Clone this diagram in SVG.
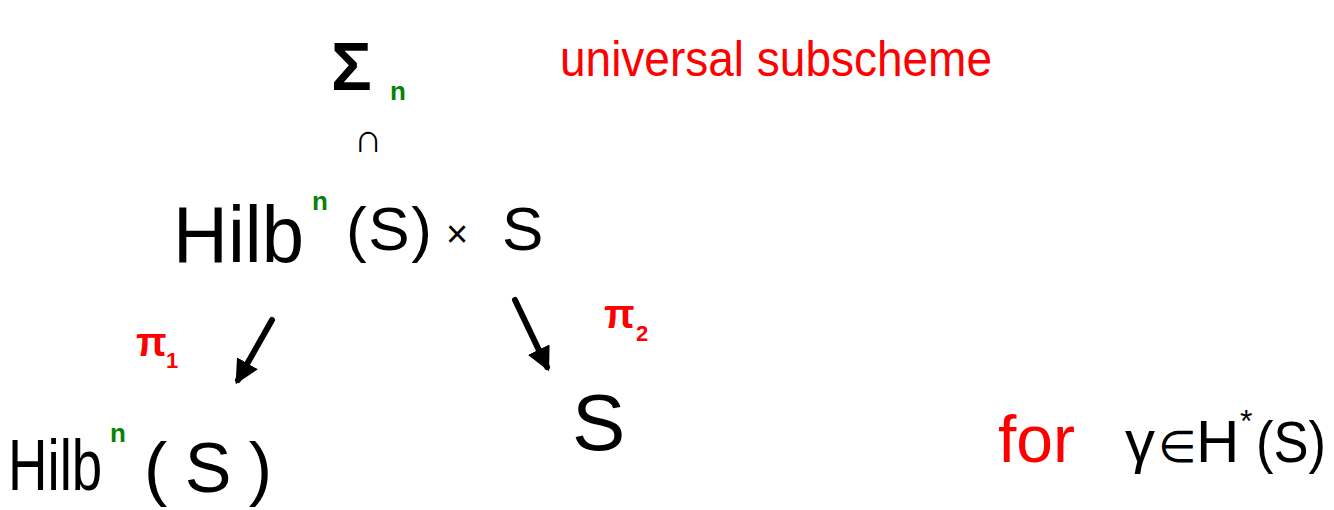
<svg xmlns="http://www.w3.org/2000/svg" width="1334" height="510" viewBox="0 0 1334 510">
<style>
text{font-family:"Liberation Sans","DejaVu Sans",sans-serif}
.k{fill:#000}
.r{fill:#f00}
.g{fill:#0a800a;font-weight:bold}
.ar{stroke:#000;stroke-width:6;stroke-linecap:round;fill:none}
</style>
<defs>
<marker id="ah" viewBox="0 0 10 10" refX="8" refY="5" markerWidth="4" markerHeight="4" orient="auto" markerUnits="strokeWidth">
<path d="M0,0 L10,5 L0,10 z" fill="#000"/>
</marker>
</defs>
<rect width="1334" height="510" fill="#fff"/>
<g id="sigma">
<text class="k" x="331" y="90" font-size="68" font-weight="bold">Σ</text>
<text class="g" x="390" y="100" font-size="26">n</text>
</g>
<g id="inclusion">
<text class="k" x="354" y="152" font-size="40" font-weight="bold">∩</text>
</g>
<g id="label-universal">
<text class="r" x="560" y="76" font-size="50" textLength="432" lengthAdjust="spacingAndGlyphs">universal subscheme</text>
</g>
<g id="product">
<text class="k" transform="translate(173,262) scale(0.95,1)" font-size="80">Hilb</text>
<text class="g" x="312" y="210" font-size="26">n</text>
<text class="k" x="346" y="250" font-size="62" textLength="86" lengthAdjust="spacing">(S)</text>
<text class="k" x="446" y="247" font-size="38">×</text>
<text class="k" x="502" y="250" font-size="62">S</text>
</g>
<g id="hilb">
<text class="k" transform="translate(8,490) scale(0.76,1)" font-size="72">Hilb</text>
<text class="g" x="110" y="442" font-size="26">n</text>
<text class="k" x="144" y="492" font-size="70" textLength="128" lengthAdjust="spacing">(S)</text>
</g>
<g id="s">
<text class="k" x="572" y="450" font-size="80">S</text>
</g>
<g id="label-pi1">
<text class="r" x="136" y="356" font-size="40" font-weight="bold">π</text>
<text class="r" x="166" y="368" font-size="22" font-weight="bold">1</text>
</g>
<g id="label-pi2">
<text class="r" x="604" y="328" font-size="40" font-weight="bold">π</text>
<text class="r" x="636" y="341" font-size="22" font-weight="bold">2</text>
</g>
<g id="note">
<text class="r" x="998" y="462" font-size="66">for</text>
<text class="k" x="1125" y="462" font-size="60">γ</text>
<text class="k" x="1158" y="462" font-size="44">∈</text>
<text class="k" x="1196" y="462" font-size="60">H</text>
<text class="k" x="1240" y="432" font-size="32">*</text>
<text class="k" x="1256" y="462" font-size="58" textLength="70" lengthAdjust="spacingAndGlyphs">(S)</text>
</g>
<g id="connectors">
<line class="ar" x1="272" y1="320" x2="238" y2="380" marker-end="url(#ah)"/>
<line class="ar" x1="515" y1="300" x2="547" y2="367" marker-end="url(#ah)"/>
</g>
</svg>
